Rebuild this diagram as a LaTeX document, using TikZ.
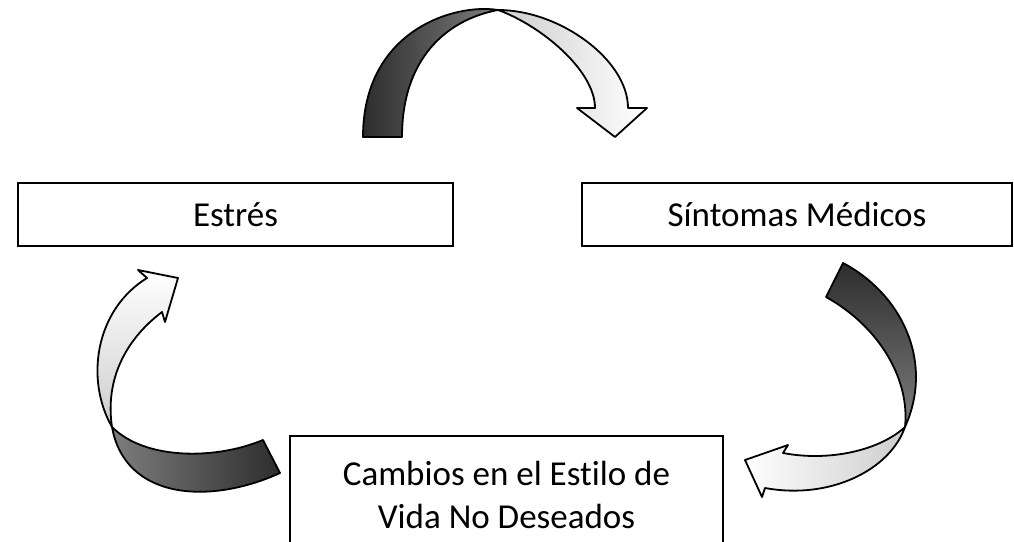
\documentclass[tikz,border=0pt]{standalone}
\usepackage{fontspec}
\setmainfont{Carlito}[Ligatures=CommonOff]
\definecolor{ribdark}{RGB}{45,45,45}
\definecolor{ribmid}{RGB}{125,125,125}
\definecolor{riblight}{RGB}{205,205,205}
\begin{document}
\begin{tikzpicture}[x=1pt,y=-1pt,
  box/.style={draw=black, line width=1.2pt, inner sep=0pt, font=\fontsize{35}{43}\selectfont, align=center},
  ribbon/.style={draw=black, line width=1.8pt, line join=round},
]
\useasboundingbox (0,0) rectangle (1014,541);
\clip (0,0) rectangle (1014,541);

% boxes
\node[box, minimum width=435pt, minimum height=63pt] (estres) at (235.5,214.5) {Estrés};
\node[box, minimum width=430pt, minimum height=63pt] (sintomas) at (797,214.5) {Síntomas Médicos};
\node[box, minimum width=433pt, minimum height=118pt] (cambios) at (506.5,495) {Cambios en el Estilo de\\Vida No Deseados};

% top arrow: Estres -> Sintomas
\path[ribbon, left color=riblight, right color=white]
  (498,10) .. controls (560,10) and (628,60) .. (628,108)
  -- (647,108) -- (615,137) -- (577,108) -- (595,108)
  .. controls (595,70) and (540,25) .. (498,10) -- cycle;
\path[ribbon, left color=ribdark, right color=ribmid]
  (363,137) .. controls (363,30) and (455,3) .. (498,10)
  .. controls (445,20) and (402,60) .. (402,137) -- cycle;

% right arrow: Sintomas -> Cambios
\path[ribbon, left color=white, right color=riblight]
  (905,427) .. controls (880,450) and (830,462) .. (783,453)
  -- (788,445) -- (745,460) -- (762,497) -- (765,488)
  .. controls (830,500) and (890,470) .. (905,427) -- cycle;
\path[ribbon, top color=ribdark, bottom color=ribmid]
  (843,263) .. controls (900,293) and (935,360) .. (905,427)
  .. controls (910,380) and (880,327) .. (826,297) -- cycle;

% left arrow: Cambios -> Estres
\path[ribbon, top color=white, bottom color=riblight]
  (112,427) .. controls (85,380) and (95,310) .. (147,278)
  -- (138,270) -- (178,278) -- (165,322) -- (162,312)
  .. controls (125,340) and (105,380) .. (112,427) -- cycle;
\path[ribbon, left color=ribmid, right color=ribdark]
  (263,440) .. controls (215,460) and (145,460) .. (112,427)
  .. controls (125,500) and (210,505) .. (280,473) -- cycle;
\end{tikzpicture}
\end{document}
